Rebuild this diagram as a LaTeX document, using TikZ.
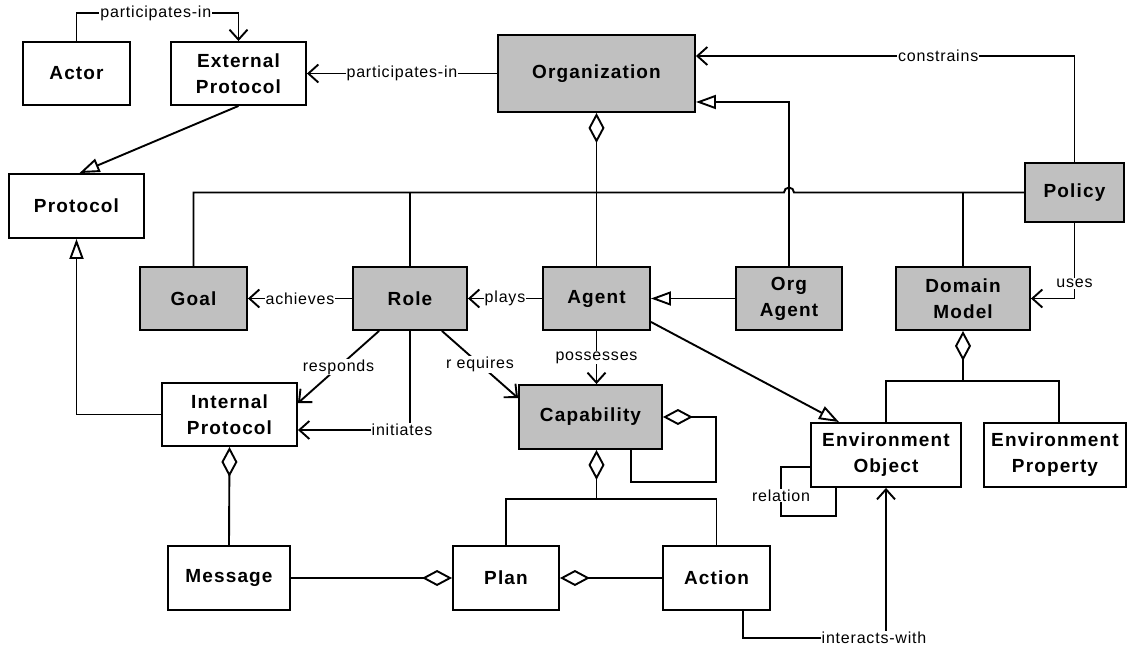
\documentclass[tikz,border=0pt]{standalone}
\usepackage{fontspec}
\usepackage{tikz}
\usetikzlibrary{arrows.meta, calc, positioning}
\newfontfamily\boxfont{Liberation Sans}[LetterSpace=6]
\newfontfamily\lblfont{Liberation Sans}[LetterSpace=5]
\definecolor{boxgray}{RGB}{192,192,192}

\begin{document}
\begin{tikzpicture}[x=1pt, y=-1pt, line width=1.9pt,
    main node/.style={rectangle, draw, align=center, inner sep=0pt, minimum height=63pt, font=\boxfont\bfseries\fontsize{19}{26}\selectfont},
    org node/.style={main node, fill=boxgray},
    lbl/.style={fill=white, inner sep=1pt, font=\lblfont\fontsize{16}{18}\selectfont},
    assoc/.style={-{Straight Barb[length=10pt, width=18pt]}},
    isa/.style={-{Triangle[open, length=20pt, width=14pt]}},
    aggr/.style={{Diamond[open, length=30pt, width=16pt]}-}]
    \useasboundingbox (0,0) rectangle (1128,647);
    \node[main node, minimum width=107pt] (Actor) at (76.5,73.5) {Actor};
    \node[main node, minimum width=135pt] (ExtProt) at (238.5,73.5) {External\\Protocol};
    \node[org node, minimum width=197pt, minimum height=77pt] (Org) at (596.5,73.5) {Organization};
    \node[main node, minimum width=135pt, minimum height=64pt] (Protocol) at (76.5,206) {Protocol};
    \node[org node, minimum width=99pt, minimum height=59pt] (Policy) at (1074.5,192.5) {Policy};
    \node[org node, minimum width=107pt] (Goal) at (193.5,298.5) {Goal};
    \node[org node, minimum width=114pt] (Role) at (410,298.5) {Role};
    \node[org node, minimum width=107pt] (Agent) at (596.5,298.5) {Agent};
    \node[org node, minimum width=106pt] (OrgAgent) at (789,298.5) {Org\\Agent};
    \node[org node, minimum width=134pt] (DomainModel) at (963,298.5) {Domain\\Model};
    \node[main node, minimum width=135pt] (IntProt) at (229.5,414.5) {Internal\\Protocol};
    \node[org node, minimum width=143pt, minimum height=64pt] (Capability) at (590.5,417) {Capability};
    \node[main node, minimum width=150pt, minimum height=64pt] (EnvObj) at (886,455) {Environment\\Object};
    \node[main node, minimum width=142pt, minimum height=64pt] (EnvProp) at (1055,455) {Environment\\Property};
    \node[main node, minimum width=122pt, minimum height=64pt] (Message) at (229,578) {Message};
    \node[main node, minimum width=106pt, minimum height=64pt] (Plan) at (506,578) {Plan};
    \node[main node, minimum width=107pt, minimum height=64pt] (Action) at (716.5,578) {Action};

    % organization side
    \draw[assoc] (Actor.north) -- ++(0,-28) -| node[lbl, pos=0.245] {participates-in} (ExtProt.north);
    \draw[assoc] (Policy.north) |- node[lbl, pos=0.68] {constrains} ($(Org.east)+(0,-17.5)$);
    \draw[isa] (OrgAgent.north) |- ($(Org.east)+(0,28.5)$);
    \draw[aggr] (Org.south) -- (Agent.north);
    \draw (Goal.north) |- ($(OrgAgent.north |- Policy.west)+(-5,0)$) arc[start angle=180, end angle=360, radius=5] -- (Policy.west); % hop over the Org Agent line
    \draw (Role.north) -- (Role.north |- Policy.west);
    \draw (DomainModel.north) -- (DomainModel.north |- Policy.west);
    \path (Org.west) edge[assoc] node[lbl] {participates-in} (ExtProt.east)
        (OrgAgent.west) edge[isa] (Agent.east)
        (Agent.west) edge[assoc] node[lbl] {plays} (Role.east)
        (Role.west) edge[assoc] node[lbl] {achieves} (Goal.east);
    \draw[assoc] (Policy.south) |- node[lbl, pos=0.4] {uses} (DomainModel.east);

    % protocols
    \draw[isa] (ExtProt.south) -- ($(Protocol.north)+(3,0)$);
    \draw[isa] (IntProt.west) -| (Protocol.south);
    \draw[assoc] ($(Role.south west)+(27,0)$) -- node[lbl] {responds} ($(IntProt.north east)+(0,21)$);
    \draw[assoc] (Role.south) |- node[lbl, pos=0.5, xshift=-8pt] {initiates} ($(IntProt.east)+(0,15.5)$);
    \draw[assoc] ($(Role.south east)+(-26,0)$) -- node[lbl] {r equires} ($(Capability.north west)+(0,14)$);
    \draw[assoc] (Agent.south) -- node[lbl] {possesses} (Agent.south |- Capability.north);

    % capability, plan, action
    \draw[aggr] (Capability.east) -- ++(53,0) |- ($(Capability.south)+(40.5,32)$) -- ($(Capability.south)+(40.5,0)$);
    \coordinate (capbus) at ($(Capability.south)+(6,49)$);
    \draw[aggr] ($(Capability.south)+(6,0)$) -- (capbus);
    \draw (Plan.north) |- (capbus) -| (Action.north);
    \path (Plan.west) edge[aggr] (Message.east)
        (Plan.east) edge[aggr] (Action.west)
        (IntProt.south) edge[aggr] (Message.north);

    % environment
    \draw[isa] ($(Agent.south east)+(0,-9)$) -- ($(EnvObj.north west)+(29,0)$);
    \coordinate (dmbus) at ($(DomainModel.south)+(0,50)$);
    \draw[aggr] (DomainModel.south) -- (dmbus);
    \draw (EnvObj.north) |- (dmbus) -| ($(EnvProp.north)+(4,0)$);
    \draw[assoc] ($(Action.south)+(26.5,0)$) -- ++(0,27) -| node[lbl, pos=0.5, xshift=-12pt] {interacts-with} (EnvObj.south);
    \draw ($(EnvObj.west)+(0,12)$) -- ++(-29,0) |- node[lbl, pos=0.29] {relation} ($(EnvObj.south west)+(26,28)$) -- ($(EnvObj.south west)+(26,0)$);
\end{tikzpicture}
\end{document}
